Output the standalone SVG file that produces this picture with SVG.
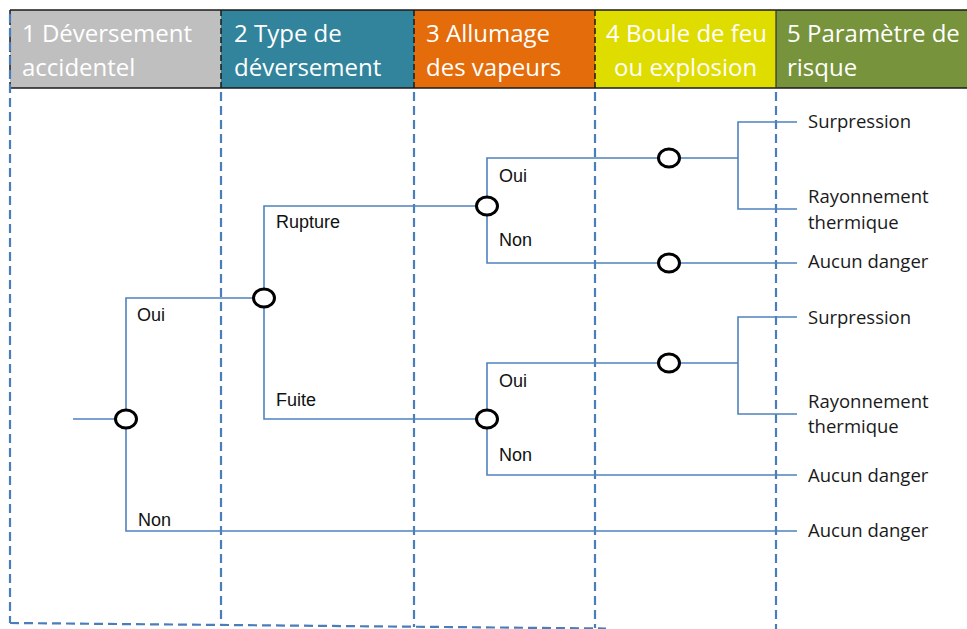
<svg xmlns="http://www.w3.org/2000/svg" width="967" height="629" viewBox="0 0 967 629">
  <style>
    .hdr { font-family: "Open Sans", "Liberation Sans", sans-serif; font-size: 24px; fill: #ffffff; }
    .lbl { font-family: "Liberation Sans", Arial, sans-serif; font-size: 18px; fill: #111111; }
    .out { font-family: "Open Sans", "Liberation Sans", sans-serif; font-size: 18.5px; fill: #1a1a1a; }
    .grid { stroke: #4a7ebb; stroke-width: 2.2; stroke-dasharray: 9 5; fill: none; }
    .sep { stroke: #1a1a1a; stroke-width: 1.5; stroke-dasharray: 6 3; fill: none; }
    .edge { stroke: #4f81bd; stroke-width: 1.6; fill: none; }
    .node { fill: #ffffff; stroke: #000000; stroke-width: 3; }
  </style>

  <!-- Column headers -->
  <g id="header">
    <rect x="10" y="10" width="211" height="78" fill="#bfbfbf"/>
    <rect x="221" y="10" width="193" height="78" fill="#31849b"/>
    <rect x="414" y="10" width="181" height="78" fill="#e46c0a"/>
    <rect x="595" y="10" width="181" height="78" fill="#dfdc00"/>
    <rect x="776" y="10" width="191" height="78" fill="#77933c"/>
    <line x1="10" y1="10" x2="967" y2="10" stroke="#1a1a1a" stroke-width="1.5"/>
    <line x1="10" y1="88" x2="967" y2="88" stroke="#1a1a1a" stroke-width="1.5"/>
    <line class="sep" x1="10" y1="10" x2="10" y2="88"/>
    <line class="sep" x1="221" y1="10" x2="221" y2="88"/>
    <line class="sep" x1="414" y1="10" x2="414" y2="88"/>
    <line class="sep" x1="595" y1="10" x2="595" y2="88"/>
    <line x1="776" y1="10" x2="776" y2="88" stroke="#333333" stroke-width="1.2"/>
    <text class="hdr" x="22" y="42">1 Déversement</text>
    <text class="hdr" x="22" y="76">accidentel</text>
    <text class="hdr" x="234" y="42">2 Type de</text>
    <text class="hdr" x="234" y="76">déversement</text>
    <text class="hdr" x="426" y="42">3 Allumage</text>
    <text class="hdr" x="426" y="76">des vapeurs</text>
    <text class="hdr" x="606" y="42">4 Boule de feu</text>
    <text class="hdr" x="614" y="76">ou explosion</text>
    <text class="hdr" x="787" y="42">5 Paramètre de</text>
    <text class="hdr" x="787" y="76">risque</text>
  </g>

  <!-- Dashed column grid -->
  <g id="grid">
    <line class="grid" x1="10" y1="14" x2="10" y2="623"/>
    <line class="grid" x1="221" y1="92" x2="221" y2="625"/>
    <line class="grid" x1="414" y1="92" x2="414" y2="627"/>
    <line class="grid" x1="595" y1="92" x2="595" y2="628"/>
    <line class="grid" x1="776" y1="92" x2="776" y2="629"/>
    <line class="grid" x1="10" y1="623" x2="606" y2="628.5"/>
  </g>

  <!-- Branch connectors -->
  <g id="connectors">
    <path class="edge" d="M73,419 H126"/>
    <path class="edge" d="M264,298 H126 V531 H797"/>
    <path class="edge" d="M487,206 H264 V419 H487"/>
    <path class="edge" d="M669,158 H487 V263 H797"/>
    <path class="edge" d="M669,158 H738 M797,122 H738 V209 H797"/>
    <path class="edge" d="M669,363 H487 V475 H797"/>
    <path class="edge" d="M669,363 H738 M797,317 H738 V414 H797"/>
  </g>

  <!-- Branch labels -->
  <g id="branch-labels">
    <text class="lbl" x="137" y="321">Oui</text>
    <text class="lbl" x="138" y="526">Non</text>
    <text class="lbl" x="276" y="228">Rupture</text>
    <text class="lbl" x="276" y="406">Fuite</text>
    <text class="lbl" x="499" y="182">Oui</text>
    <text class="lbl" x="499" y="246">Non</text>
    <text class="lbl" x="499" y="387">Oui</text>
    <text class="lbl" x="499" y="461">Non</text>
  </g>

  <!-- Event nodes -->
  <g id="n-deversement"><ellipse class="node" cx="126" cy="419" rx="10.5" ry="9"/></g>
  <g id="n-type"><ellipse class="node" cx="264" cy="298" rx="10.5" ry="9"/></g>
  <g id="n-allumage-rupture"><ellipse class="node" cx="487" cy="206" rx="10.5" ry="9"/></g>
  <g id="n-allumage-fuite"><ellipse class="node" cx="487" cy="419" rx="10.5" ry="9"/></g>
  <g id="n-boule-1"><ellipse class="node" cx="669" cy="158" rx="10.5" ry="9"/></g>
  <g id="n-boule-2"><ellipse class="node" cx="669" cy="263" rx="10.5" ry="9"/></g>
  <g id="n-boule-3"><ellipse class="node" cx="669" cy="363" rx="10.5" ry="9"/></g>

  <!-- Outcomes -->
  <g id="outcomes">
    <text class="out" x="808" y="128">Surpression</text>
    <text class="out" x="808" y="203">Rayonnement</text>
    <text class="out" x="808" y="229">thermique</text>
    <text class="out" x="808" y="268">Aucun danger</text>
    <text class="out" x="808" y="324">Surpression</text>
    <text class="out" x="808" y="408">Rayonnement</text>
    <text class="out" x="808" y="433">thermique</text>
    <text class="out" x="808" y="482">Aucun danger</text>
    <text class="out" x="808" y="537">Aucun danger</text>
  </g>
</svg>
